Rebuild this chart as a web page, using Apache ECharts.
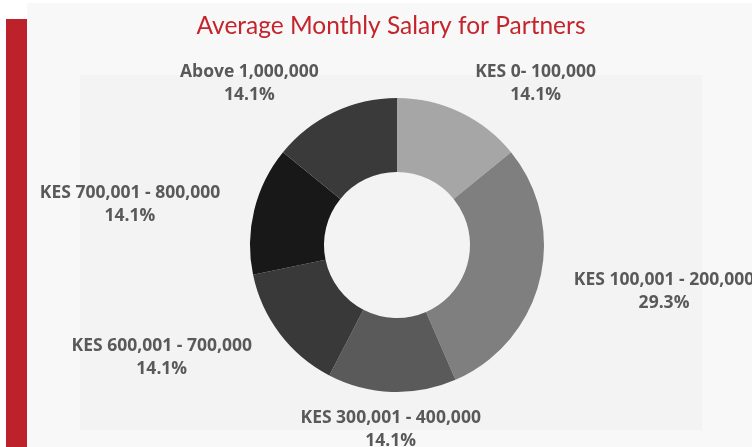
<!DOCTYPE html>
<html>
<head>
<meta charset="utf-8">
<script src="https://cdn.jsdelivr.net/npm/echarts@6/dist/echarts.min.js"></script>
<style>
  html, body { margin: 0; padding: 0; background: #fff; }
  #chart { width: 752px; height: 447px; }
</style>
</head>
<body>
<div id="chart"></div>
<script>
const categories = ['KES 0- 100,000', 'KES 100,001 - 200,000', 'KES 300,001 - 400,000',
  'KES 600,001 - 700,000', 'KES 700,001 - 800,000', 'Above 1,000,000']
const shares = [14.1, 29.3, 14.1, 14.1, 14.1, 14.1]
const sliceColors = ['#a6a6a6', '#7f7f7f', '#5a5a5a', '#393939', '#181818', '#3a3a3a']

const chart = echarts.init(document.getElementById('chart'))

const total = shares.reduce((a, b) => a + b, 0)
// mid angle of each slice, clockwise from 12 o'clock
const midAngles = shares.map((v, i) => {
  const before = shares.slice(0, i).reduce((a, b) => a + b, 0)
  return (before + v / 2) / total * 360
})

chart.setOption({
  animation: false,
  graphic: [
    { type: 'rect', shape: { x: 27, y: 3, width: 725, height: 444 }, style: { fill: '#f8f8f8' }, z: -10 },
    { type: 'rect', shape: { x: 80, y: 75, width: 622, height: 355 }, style: { fill: '#f3f3f3' }, z: -9 },
    { type: 'rect', shape: { x: 6, y: 19, width: 21, height: 428 }, style: { fill: '#bd222b' }, z: -8 }
  ],
  title: {
    text: 'Average Monthly Salary for Partners',
    left: 386, top: 9, textAlign: 'center',
    textStyle: { fontFamily: 'Lato', fontSize: 24.5, fontWeight: 'normal', color: '#c4242c' }
  },
  series: [{
    type: 'pie',
    center: [397, 245],
    radius: [73, 147],
    startAngle: 90,
    clockwise: true,
    avoidLabelOverlap: false,
    data: categories.map((name, i) => ({ name, value: shares[i], itemStyle: { color: sliceColors[i] } })),
    label: {
      show: true,
      position: 'outside',
      alignTo: 'none',
      distanceToLabelLine: 0,
      formatter: p => p.name + '\n' + p.value.toFixed(1) + '%',
      fontFamily: 'Open Sans',
      fontWeight: 'bold',
      fontSize: 17.5,
      lineHeight: 23,
      color: '#595959'
    },
    labelLine: { show: false, length: 35, length2: 0 },
    labelLayout: p => {
      const a = midAngles[p.dataIndex]
      const r = p.labelRect
      const y = r.y + r.height / 2 + 3
      // labels near the top/bottom are centred on their anchor
      if (Math.abs(a - 180) < 20 || a < 20 || a > 340) return { align: 'center', y, verticalAlign: 'middle' }
      // others keep their box but centre the two lines inside it
      return { x: r.x + r.width / 2, y, align: 'center', verticalAlign: 'middle' }
    }
  }]
})
</script>
</body>
</html>
